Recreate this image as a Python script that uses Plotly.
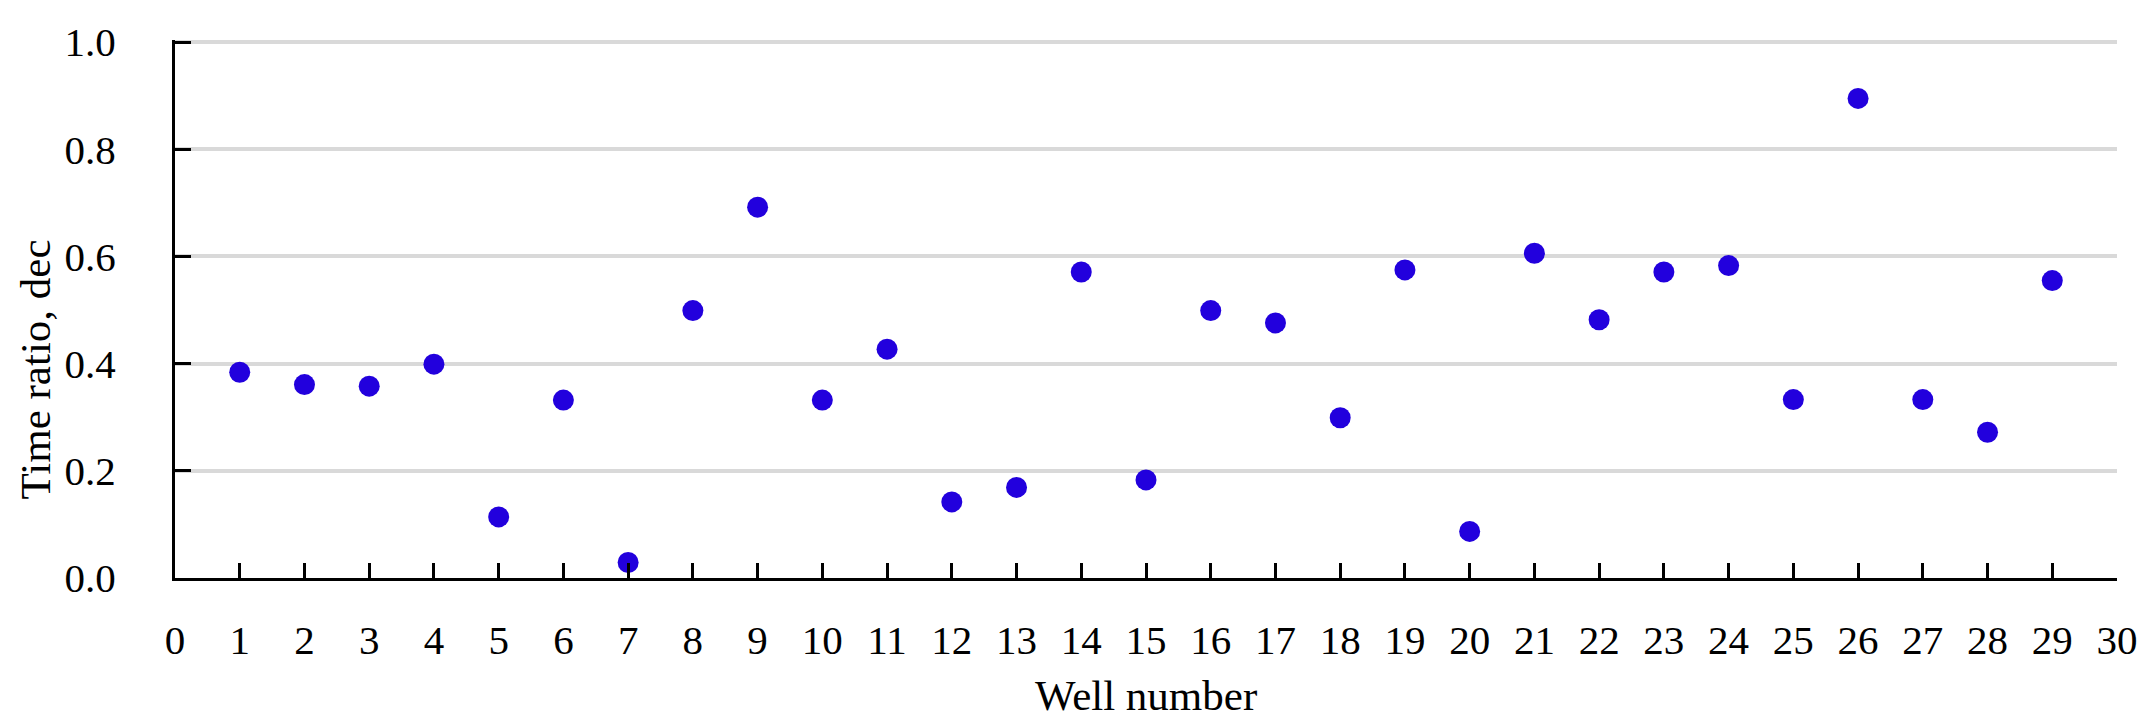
import plotly.graph_objects as go

wells = list(range(1, 30))
time_ratio = [0.384, 0.361, 0.358, 0.399, 0.114, 0.332, 0.029, 0.499, 0.692, 0.332,
              0.427, 0.142, 0.169, 0.571, 0.183, 0.499, 0.476, 0.299, 0.575, 0.087,
              0.606, 0.482, 0.571, 0.583, 0.333, 0.895, 0.333, 0.272, 0.555]
x_ticks = list(range(0, 31))
y_ticks = [0.0, 0.2, 0.4, 0.6, 0.8, 1.0]
y_labels = ["0.0", "0.2", "0.4", "0.6", "0.8", "1.0"]

FONT = "Liberation Serif"

fig = go.Figure()
fig.add_trace(go.Scatter(
    x=wells, y=time_ratio, mode="markers",
    marker=dict(color="#2200DD", size=21, line=dict(width=0)),
    showlegend=False, cliponaxis=False,
))

# page body has an 8px default margin, so the figure is offset by (8, 8)
fig.update_layout(
    width=2143, height=716,
    margin=dict(l=167, r=34, t=32, b=146),
    paper_bgcolor="white", plot_bgcolor="white",
    font=dict(family=FONT, size=40, color="black"),
    xaxis=dict(
        range=[0, 30], tickvals=x_ticks, ticktext=[str(v) for v in x_ticks],
        showgrid=False, zeroline=False,
        showline=True, linecolor="black", linewidth=3,
        ticks="inside", ticklen=15, tickwidth=3, tickcolor="black",
        ticklabelstandoff=24,
        tickfont=dict(family=FONT, size=41, color="black"),
    ),
    yaxis=dict(
        range=[0, 1.004], tickvals=y_ticks, ticktext=y_labels,
        showgrid=True, gridcolor="#d9d9d9", gridwidth=4,
        zeroline=False,
        showline=True, linecolor="black", linewidth=3,
        ticks="inside", ticklen=16, tickwidth=3, tickcolor="black",
        ticklabelstandoff=48,
        tickfont=dict(family=FONT, size=41, color="black"),
    ),
    annotations=[
        dict(text="Well number", xref="paper", yref="paper", x=0.5, y=-0.218,
             xanchor="center", yanchor="middle", showarrow=False,
             font=dict(family=FONT, size=43, color="black")),
        dict(text="Time ratio, dec", xref="paper", yref="paper", x=-0.072, y=0.388,
             xanchor="center", yanchor="middle", textangle=-90, showarrow=False,
             font=dict(family=FONT, size=43, color="black")),
    ],
)

fig.write_html("out.html")
